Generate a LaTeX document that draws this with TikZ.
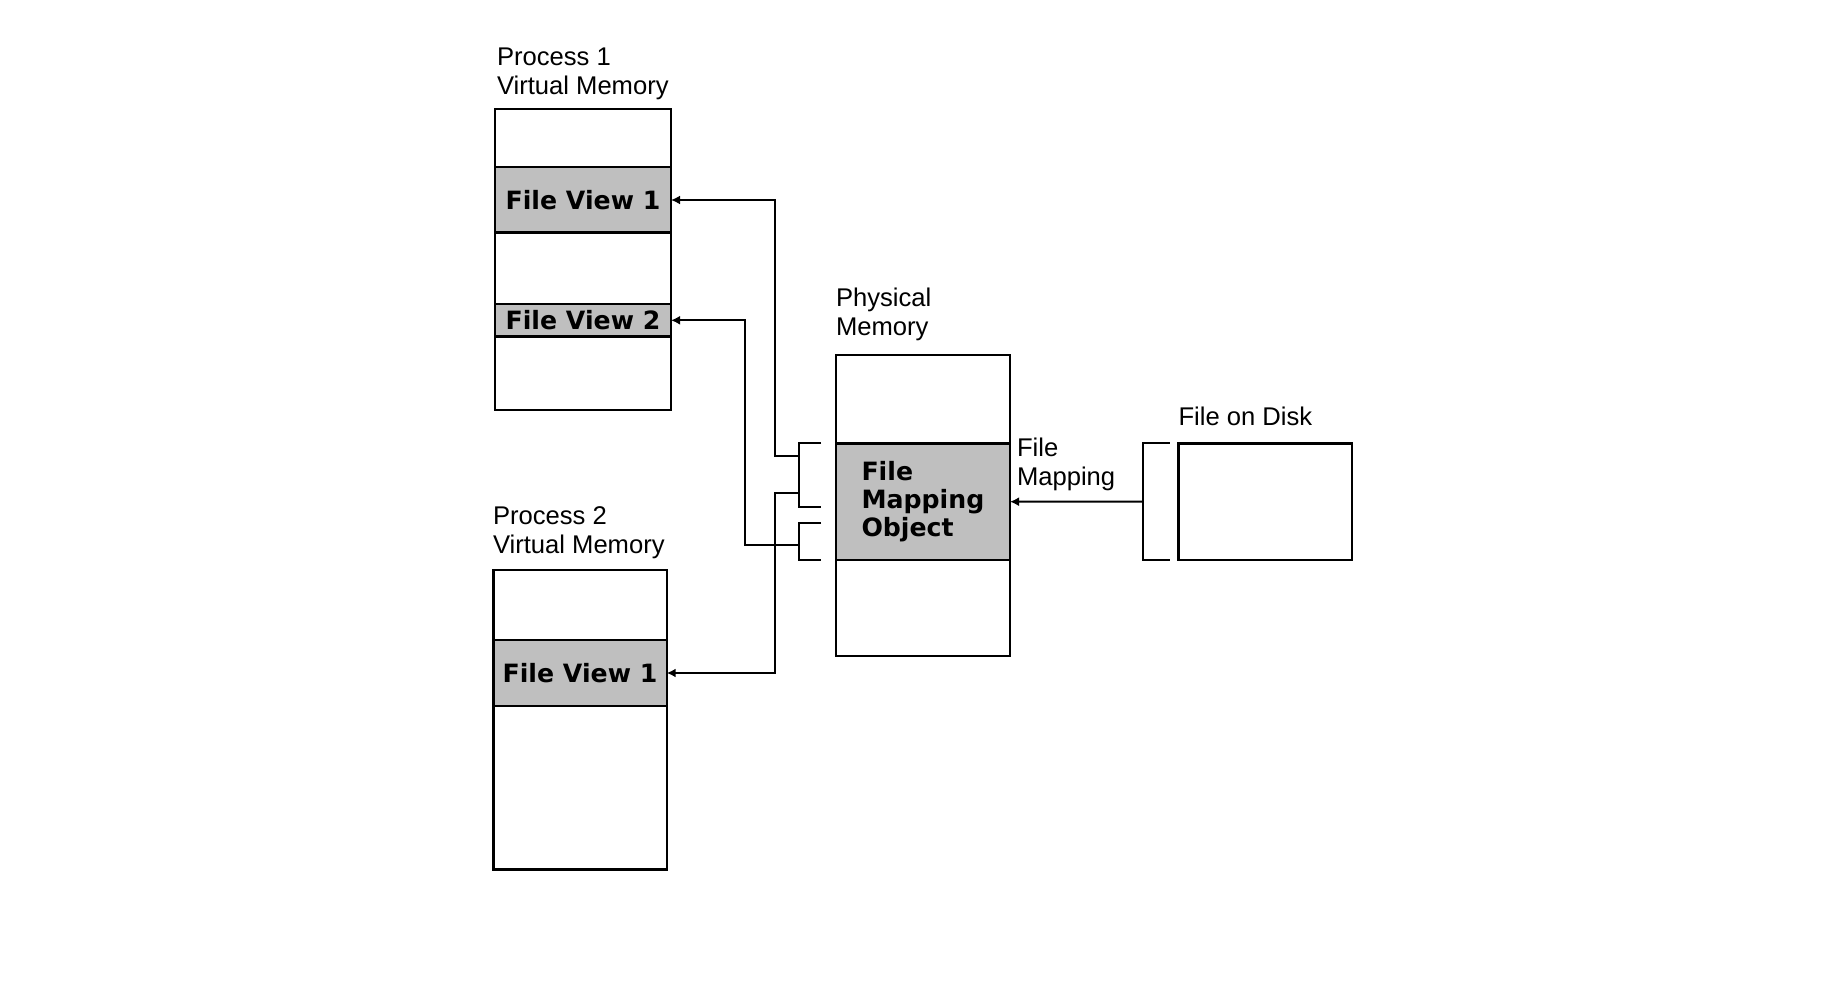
\documentclass[tikz,border=0pt]{standalone}
\usepackage{fontspec}
\setmainfont{Liberation Sans}
\newfontfamily\viewfont{DejaVu Sans}
\usetikzlibrary{arrows.meta,positioning,calc}

\begin{document}
\begin{tikzpicture}[x=0.5pt,y=-0.5pt,
  every node/.style={inner sep=0pt,outer sep=0pt},
  caption/.style={align=left,anchor=south west,font=\fontsize{12.8}{14.5}\selectfont},
  membox/.style={draw,line width=1.2pt,anchor=north west},
  viewband/.style={draw,line width=1.2pt,fill=black!25,align=left,font=\viewfont\bfseries\fontsize{12.6}{14}\selectfont},
  link/.style={line width=1pt,-{Latex[length=4.5pt,width=4.5pt]}},
  brk/.style={line width=1pt}]
\useasboundingbox (0,0) rectangle (1838,1000);

\node[membox,minimum width=88pt,minimum height=150.5pt] (p1) at (495,109) {};
\node[viewband,minimum width=88pt,minimum height=32.7pt] (p1v1) at ($(p1.north)+(0,91)$) {File View 1};
\node[viewband,minimum width=88pt,minimum height=16.35pt] (p1v2) at ($(p1.north)+(0,211.3)$) {File View 2};
\node[caption] (p1cap) at (497,100) {Process 1\\Virtual Memory};

\node[membox,minimum width=86.7pt,minimum height=149.65pt] (p2) at (493.3,570) {};
\node[viewband,minimum width=86.7pt,minimum height=33pt] (p2v1) at ($(p2.north)+(0,103)$) {File View 1};
\node[caption] (p2cap) at (493,559) {Process 2\\Virtual Memory};

\node[membox,minimum width=87.1pt,minimum height=150.5pt] (phys) at (835.8,355) {};
\node[viewband,minimum width=87.1pt,minimum height=58.35pt] (fmo) at ($(phys.north)+(0,146.7)$) {File\\Mapping\\Object};
\node[caption] (physcap) at (836,341) {Physical\\Memory};

\node[membox,minimum width=86.75pt,minimum height=58.35pt] (disk) at (1178.5,443.3) {};
\node[caption,anchor=base west] (diskcap) at (1178.5,425) {File on Disk};
\node[caption] (mapcap) at (1017,490.5) {File\\Mapping};

\coordinate (a1) at (798.5,456);
\coordinate (a2) at (798.5,492.7);
\coordinate (b1) at (798.5,545);
\coordinate (d1) at ($(disk.west)+(-35.8,0)$);

\draw[brk] (821,443.3) -- (798.5,443.3) -- (798.5,507) -- (821,507);
\draw[brk] (821,522.7) -- (798.5,522.7) -- (798.5,560) -- (821,560);
\draw[brk] ($(disk.north west)+(-9,0)$) -- ++(-26.8,0) |- ($(disk.south west)+(-9,0)$);

\draw[link] (a1) -- ++(-23.5,0) |- (p1v1.east);
\draw[link] (a2) -- ++(-23.5,0) |- (p2v1.east);
\draw[link] (b1) -- ++(-53.5,0) |- (p1v2.east);
\draw[link] (d1) -- (fmo.east);
\end{tikzpicture}
\end{document}
